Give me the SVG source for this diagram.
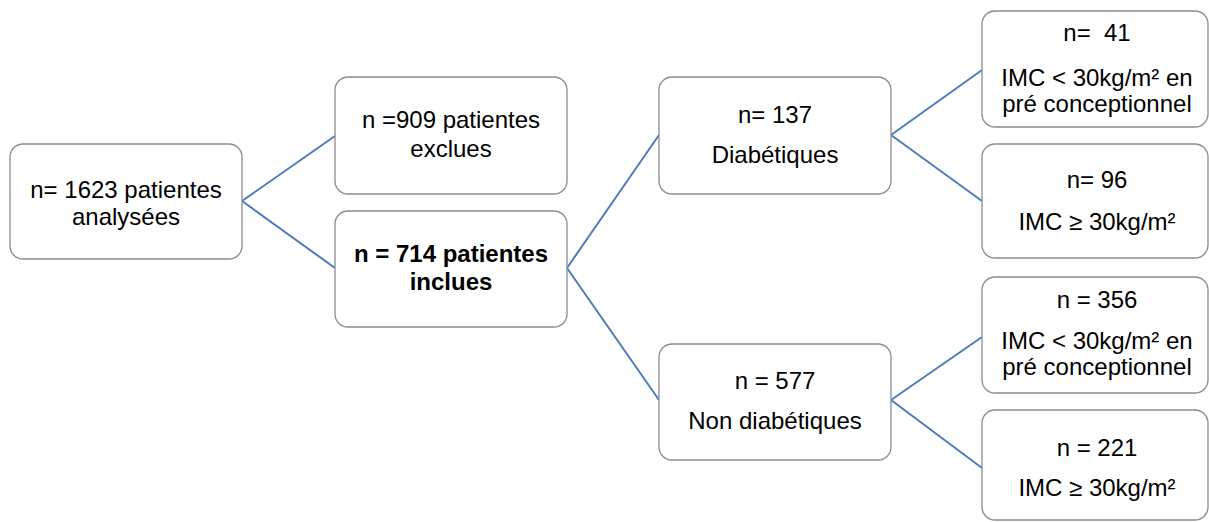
<svg xmlns="http://www.w3.org/2000/svg" width="1209" height="522" viewBox="0 0 1209 522">
<style>
.box{fill:#ffffff;stroke:#8c8c8c;stroke-width:1.3}
.t{font-family:"Liberation Sans",Arial,sans-serif;font-size:24px;fill:#000;text-anchor:middle}
.b{font-weight:bold}
.c{fill:none;stroke:#4a7ebb;stroke-width:2}
</style>
<rect width="1209" height="522" fill="#ffffff"/>
<g id="connectors">
<path class="c" d="M242 201 L335 136 M242 201 L335 268"/>
<path class="c" d="M567 268 L659 135 M567 268 L659 400"/>
<path class="c" d="M891 135 L982 70 M891 135 L982 201"/>
<path class="c" d="M891 400 L982 337 M891 400 L982 468"/>
</g>
<g id="n1623">
<rect class="box" x="10" y="144" width="232" height="115" rx="13"/>
<text class="t" x="126" y="198">n= 1623 patientes</text>
<text class="t" x="126" y="225">analysées</text>
</g>
<g id="n909">
<rect class="box" x="335" y="77" width="232" height="117" rx="13"/>
<text class="t" x="451" y="128">n =909 patientes</text>
<text class="t" x="451" y="157">exclues</text>
</g>
<g id="n714">
<rect class="box" x="335" y="211" width="232" height="116" rx="13"/>
<text class="t b" x="451" y="262">n = 714 patientes</text>
<text class="t b" x="451" y="290">inclues</text>
</g>
<g id="diab">
<rect class="box" x="659" y="77" width="232" height="117" rx="13"/>
<text class="t" x="775" y="123">n= 137</text>
<text class="t" x="775" y="163">Diabétiques</text>
</g>
<g id="nondiab">
<rect class="box" x="659" y="344" width="232" height="116" rx="13"/>
<text class="t" x="775" y="389">n = 577</text>
<text class="t" x="775" y="429">Non diabétiques</text>
</g>
<g id="d-imc-low">
<rect class="box" x="982" y="11" width="226" height="116" rx="13"/>
<text class="t" x="1097" y="41" xml:space="preserve">n=  41</text>
<text class="t" x="1097" y="86">IMC &lt; 30kg/m² en</text>
<text class="t" x="1097" y="112">pré conceptionnel</text>
</g>
<g id="d-imc-high">
<rect class="box" x="982" y="144" width="226" height="114" rx="13"/>
<text class="t" x="1097" y="188">n= 96</text>
<text class="t" x="1097" y="230">IMC ≥ 30kg/m²</text>
</g>
<g id="nd-imc-low">
<rect class="box" x="982" y="277" width="226" height="116" rx="13"/>
<text class="t" x="1097" y="308">n = 356</text>
<text class="t" x="1097" y="349">IMC &lt; 30kg/m² en</text>
<text class="t" x="1097" y="375">pré conceptionnel</text>
</g>
<g id="nd-imc-high">
<rect class="box" x="982" y="410" width="226" height="110" rx="13"/>
<text class="t" x="1097" y="456">n = 221</text>
<text class="t" x="1097" y="496">IMC ≥ 30kg/m²</text>
</g>
</svg>
